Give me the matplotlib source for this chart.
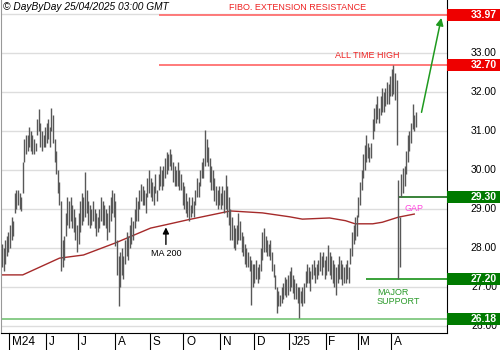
import pandas as pd
import matplotlib
matplotlib.use('Agg')
import matplotlib.pyplot as plt
from matplotlib.patches import Rectangle
from matplotlib.transforms import blended_transform_factory

plt.rcParams['font.family'] = ['Liberation Sans', 'DejaVu Sans']

# trading days (Easter 2025 closed)
dates = pd.bdate_range('2024-04-24', '2025-04-24')
dates = dates.drop(pd.to_datetime(['2025-04-18', '2025-04-21']))

# daily highs / lows, one line per month
highs = [
    28.1, 28.0, 28.2, 28.3, 28.4,
    28.6, 28.8, 28.7, 29.4, 29.5, 29.5, 29.4, 29.3, 30.2, 30.8, 30.9, 30.9, 31.1, 31.0, 30.9, 30.8, 30.7, 31.3, 31.56, 31.2, 31.0, 30.9, 31.1,
    31.2, 31.3, 31.1, 31.6, 31.4, 30.8, 30.5, 30.0, 29.7, 29.2, 28.2, 28.3, 28.9, 29.3, 29.2, 29.3, 29.1, 29.0, 28.8, 28.6,
    28.9, 29.2, 29.4, 29.3, 29.95, 29.5, 29.2, 29.1, 29.0, 29.2, 29.0, 28.9, 28.8, 29.0, 29.3, 29.2, 29.1, 29.0, 28.9, 29.1, 29.3, 29.5, 29.4,
    29.2, 28.2, 27.8, 27.9, 28.0, 27.8, 28.2, 28.4, 28.3, 28.6, 28.8, 28.7, 29.0, 29.3, 29.2, 29.5, 29.65, 29.6, 29.5, 29.4, 29.8, 30.0,
    29.8, 29.7, 29.6, 29.9, 29.5, 29.9, 30.1, 30.0, 30.1, 30.3, 30.45, 30.4, 30.55, 30.4, 30.2, 30.1, 30.0, 30.2, 30.0, 29.9, 29.7,
    29.6, 29.4, 29.2, 29.3, 29.1, 29.3, 29.2, 29.5, 29.8, 29.7, 30.0, 30.2, 30.3, 31.03, 30.8, 30.6, 30.3, 30.1, 30.0, 29.8, 29.6, 29.5, 29.6,
    29.4, 29.6, 29.5, 29.87, 29.6, 29.3, 29.0, 28.8, 28.6, 28.5, 28.6, 28.9, 28.7, 28.4, 28.3, 28.1, 28.0, 27.9, 27.8, 27.7, 27.6,
    27.6, 27.7, 27.5, 27.6, 28.0, 28.4, 28.5, 28.3, 28.2, 28.1, 28.2, 27.9, 27.6, 27.3, 27.0, 26.9, 26.8, 27.0, 27.1, 27.25, 27.2, 27.3,
    27.4, 27.5, 27.3, 27.2, 27.1, 27.0, 27.0, 26.9, 27.0, 27.1, 27.4, 27.6, 27.5, 27.4, 27.6, 27.7, 27.5, 27.6, 27.7, 27.9, 27.8, 27.9, 27.7,
    27.8, 28.07, 27.9, 27.8, 27.7, 27.6, 27.5, 27.6, 27.8, 27.7, 27.6, 27.5, 27.6, 27.7, 27.5, 28.0, 28.4, 28.6, 28.8, 28.85,
    29.3, 29.7, 30.0, 30.4, 30.65, 30.9, 30.7, 30.6, 30.7, 31.3, 31.6, 31.7, 31.9, 31.6, 31.9, 32.1, 32.0, 32.1, 32.25, 32.2, 32.4,
    32.6, 32.7, 32.5, 32.3, 29.75, 28.8, 29.9, 30.05, 30.1, 30.5, 30.9, 31.0, 31.2, 31.7, 31.4, 31.5,
]
lows = [
    27.5, 27.4, 27.6, 27.8, 27.9,
    28.0, 28.2, 28.3, 28.9, 29.0, 29.1, 29.0, 28.95, 29.4, 30.2, 30.4, 30.5, 30.6, 30.5, 30.4, 30.4, 30.5, 30.9, 31.0, 30.6, 30.5, 30.6, 30.6,
    30.7, 30.8, 30.6, 31.0, 30.7, 30.2, 29.9, 29.4, 29.1, 27.4, 27.5, 27.7, 28.3, 28.6, 28.5, 28.7, 28.5, 28.4, 28.2, 27.9,
    28.1, 28.4, 28.6, 28.7, 28.8, 28.9, 28.6, 28.5, 28.6, 28.7, 28.5, 28.3, 28.4, 28.5, 28.7, 28.6, 28.6, 28.5, 28.2, 28.4, 28.7, 28.9, 28.8,
    28.05, 27.3, 26.5, 27.0, 27.3, 27.2, 27.6, 27.8, 27.7, 28.0, 28.1, 28.2, 28.5, 28.7, 28.7, 29.0, 29.2, 29.1, 29.1, 28.9, 29.3, 29.4,
    29.3, 29.2, 29.1, 29.4, 29.2, 29.5, 29.6, 29.5, 29.6, 29.8, 29.9, 30.0, 30.1, 30.0, 29.7, 29.6, 29.6, 29.6, 29.5, 29.5, 29.1,
    29.0, 28.9, 28.8, 28.7, 28.8, 28.9, 28.8, 29.1, 29.3, 29.3, 29.6, 29.8, 29.8, 30.1, 30.2, 30.1, 29.7, 29.5, 29.5, 29.2, 29.1, 29.0, 29.1,
    29.0, 29.1, 28.9, 29.0, 28.8, 28.6, 28.2, 28.2, 28.0, 27.95, 28.1, 28.2, 28.2, 27.9, 27.8, 27.6, 27.5, 27.5, 27.4, 26.55, 27.0,
    27.1, 27.2, 27.1, 27.2, 27.4, 27.7, 27.9, 27.9, 27.8, 27.8, 27.7, 27.4, 27.25, 26.95, 26.33, 26.5, 26.5, 26.6, 26.7, 26.8, 26.75, 26.8,
    26.9, 27.0, 26.85, 26.7, 26.7, 26.6, 26.2, 26.6, 26.5, 26.6, 27.0, 27.1, 27.1, 26.9, 27.2, 27.3, 27.1, 27.2, 27.3, 27.4, 27.3, 27.5, 27.2,
    27.3, 27.4, 27.3, 27.2, 27.1, 27.0, 26.8, 27.1, 27.2, 27.2, 27.05, 27.1, 27.1, 27.2, 27.1, 27.6, 27.8, 28.1, 28.2, 28.3,
    28.8, 29.1, 29.5, 29.8, 30.0, 30.2, 30.3, 30.2, 30.3, 30.8, 31.0, 31.2, 31.3, 31.2, 31.4, 31.5, 31.5, 31.65, 31.7, 31.7, 31.9,
    31.9, 31.95, 31.8, 30.65, 27.2, 27.5, 29.3, 29.4, 29.6, 29.9, 30.2, 30.5, 30.7, 31.05, 31.0, 31.1,
]

# 200 day moving average, sampled at these bar numbers
ma_days = [0, 13, 36, 51, 71, 93, 103, 116, 143, 163, 180, 188, 205, 215, 221, 232, 238, 248, 258]
ma_vals = [27.31, 27.31, 27.74, 27.82, 28.13, 28.51, 28.6, 28.72, 28.95, 28.9, 28.8, 28.74, 28.77,
           28.7, 28.62, 28.62, 28.66, 28.79, 28.87]

month_labels = ['M24', 'J', 'J', 'A', 'S', 'O', 'N', 'D', 'J25', 'F', 'M', 'A']

level_vals = [33.97, 32.70, 29.30, 27.20, 26.18]
level_from = [98, 98, 248, 228, 0]     # bar where each line starts
level_line_col = ['#ff7070', '#ff7070', '#2a7a2a', '#2a9a2a', '#80c880']
level_box_col = ['#ee0000', '#ee0000', '#007a00', '#007a00', '#007a00']

price_ticks = [26, 27, 28, 29, 30, 31, 32, 33, 34]

fig = plt.figure(figsize=(5, 3.5), dpi=100)
ax = fig.add_axes([0.002, 0.0486, 0.892, 0.9514])
x = list(range(len(dates)))
ax.set_xlim(-0.6, 278.5)
ax.set_ylim(25.82, 34.36)

ax.set_yticks(price_ticks)
ax.grid(axis='y', color='#dddddd', lw=1)
ax.set_axisbelow(True)
ax.tick_params(left=False, bottom=False, labelleft=False, labelbottom=False)
ax.spines['top'].set_visible(False)
ax.spines['left'].set_color('#999999')
ax.spines['right'].set_color('black')
ax.spines['bottom'].set_color('black')

# price bars
ax.vlines(x, lows, highs, color='#585858', lw=1.0, zorder=3)

# moving average
ax.plot(ma_days, ma_vals, color='#a52a2a', lw=1.0, zorder=2)

# level lines
for v, s, c in zip(level_vals, level_from, level_line_col):
    ax.hlines(v, s, 278.5, color=c, lw=1.3, zorder=2)

# right side labels (boxes sit on top, as in the original)
ty = blended_transform_factory(ax.transAxes, ax.transData)
for t in price_ticks:
    ax.text(1.112, t, f'{t:.2f}', transform=ty, ha='right', va='center',
            fontsize=7.5, clip_on=False)
for v, c in zip(level_vals, level_box_col):
    ax.add_patch(Rectangle((1.0, v - 0.155), 0.125, 0.31, transform=ty,
                           facecolor=c, edgecolor='none', clip_on=False, zorder=5))
    ax.text(1.112, v, f'{v:.2f}', transform=ty, ha='right', va='center',
            fontsize=7.5, fontweight='bold', color='white', clip_on=False, zorder=6)

# months along the bottom
tx = blended_transform_factory(ax.transData, ax.transAxes)
month_start = [i for i in range(1, len(dates)) if dates[i].month != dates[i - 1].month]
for i, lab in zip(month_start, month_labels):
    ax.plot([i - 0.5, i - 0.5], [0, -0.052], transform=tx, color='black',
            lw=0.8, clip_on=False)
    ax.text(i + 1.3, -0.027, lab, transform=tx, ha='left', va='center',
            fontsize=8.5, clip_on=False)

# notes
ax.text(185, 34.18, 'FIBO. EXTENSION RESISTANCE', color='#ee2222', fontsize=6.5,
        ha='center', va='center')
ax.text(228.4, 32.93, 'ALL TIME HIGH', color='#ee2222', fontsize=6.5,
        ha='center', va='center')
ax.text(234.7, 26.87, 'MAJOR', color='#2a9a2a', fontsize=6.5, ha='left', va='center')
ax.text(234.7, 26.64, 'SUPPORT', color='#2a9a2a', fontsize=6.5, ha='left', va='center')
ax.text(257.8, 29.0, 'GAP', color='#ff44dd', fontsize=6.5, ha='center', va='center')

ax.annotate('', xy=(102.6, 28.6), xytext=(102.6, 28.02),
            arrowprops=dict(arrowstyle='-|>', color='black', lw=1, mutation_scale=9))
ax.text(102.6, 27.85, 'MA 200', fontsize=6.5, ha='center', va='center')

ax.annotate('', xy=(275.3, 33.97), xytext=(262.2, 31.41),
            arrowprops=dict(arrowstyle='-|>', color='#1f9a1f', lw=1.1, mutation_scale=11))

fig.text(0.006, 1 - 7 / 350, '\u00a9 DayByDay 25/04/2025 03:00 GMT', fontsize=7.3,
         style='italic', ha='left', va='center')

fig.savefig('out.png', dpi=100)
